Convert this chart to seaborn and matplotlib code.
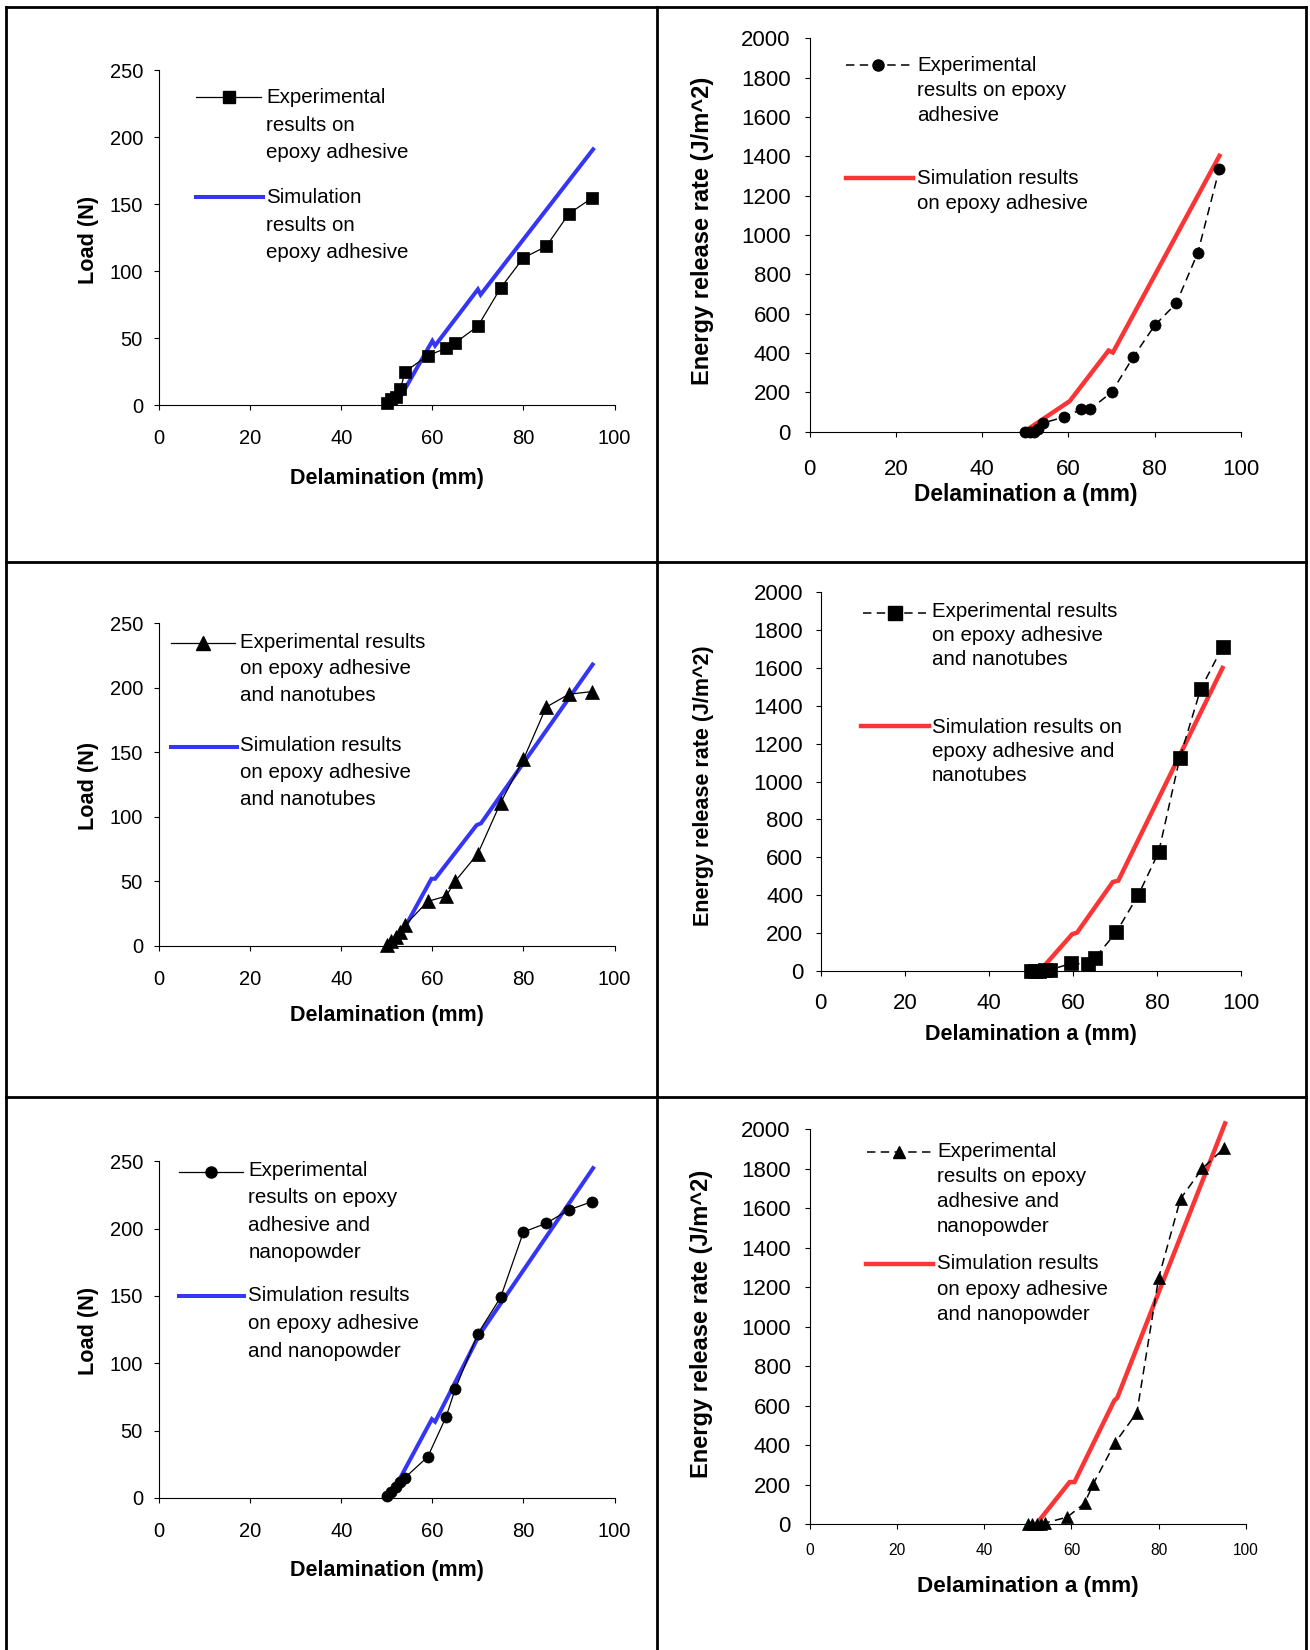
import matplotlib
matplotlib.use("Agg")
import matplotlib.pyplot as plt
from matplotlib.lines import Line2D
import seaborn as sns

plt.rcParams['font.family'] = ['Liberation Sans', 'DejaVu Sans']

W, H, DPI = 1310, 1650, 100

# ---------------- data ----------------
x_exp = [50, 51, 52, 53, 54, 59, 63, 65, 70, 75, 80, 85, 90, 95]

# Load (N) - epoxy adhesive
load_exp_epoxy = [2, 4.5, 6, 12, 25, 37, 42.5, 46.5, 59, 87.5, 110, 118.5, 143, 154.5]
load_sim_epoxy_x = [53.3, 60.0, 60.6, 70.0, 70.6, 95.3]
load_sim_epoxy_y = [8, 48, 44.5, 86.5, 82.5, 191]

# Energy release rate - epoxy adhesive
err_exp_epoxy = [0, 0, 0, 14, 43, 74, 113, 113, 200, 378, 540, 652, 910, 1337]
err_sim_epoxy_x = [51.0, 60.3, 69.3, 70.3, 95.0]
err_sim_epoxy_y = [18, 155, 412, 402, 1402]

# Load (N) - epoxy adhesive and nanotubes
load_exp_tubes = [1, 4, 7, 11, 16, 34.5, 38.5, 50, 71.5, 111, 144.5, 185, 195, 197]
load_sim_tubes_x = [54.2, 59.8, 60.6, 69.7, 70.7, 95.2]
load_sim_tubes_y = [16, 52, 52, 93.5, 95, 218]

# Energy release rate - epoxy adhesive and nanotubes
err_exp_tubes_x = [50, 51, 52, 53.3, 54.5, 59.5, 63.5, 65.3, 70.3, 75.6, 80.4, 85.4, 90.4, 95.6]
err_exp_tubes = [0, 0, 0, 3, 5, 40, 37, 70, 204, 403, 627, 1122, 1488, 1711]
err_sim_tubes_x = [52.3, 59.8, 61.0, 69.5, 70.8, 95.6]
err_sim_tubes_y = [5, 194, 203, 470, 477, 1600]

# Load (N) - epoxy adhesive and nanopowder
load_exp_powder = [1, 4, 8, 11.5, 15, 30.5, 60, 80.5, 122, 149, 197.5, 204, 214, 220]
load_sim_powder_x = [50.6, 59.9, 60.6, 70.3, 95.3]
load_sim_powder_y = [0, 58.5, 56.5, 121, 245]

# Energy release rate - epoxy adhesive and nanopowder
err_exp_powder = [0, 0, 0, 3, 6, 35, 105, 204, 412, 565, 1249, 1648, 1802, 1904]
err_sim_powder_x = [52.3, 59.6, 60.7, 69.8, 70.5, 95.2]
err_sim_powder_y = [10, 213, 213, 625, 640, 2030]

x_ticks = [0, 20, 40, 60, 80, 100]
load_ticks = [0, 50, 100, 150, 200, 250]
err_ticks = [0, 200, 400, 600, 800, 1000, 1200, 1400, 1600, 1800, 2000]

BLUE = '#3535F5'
RED = '#FA3535'

fig = plt.figure(figsize=(W / DPI, H / DPI), dpi=DPI)
fig.patch.set_facecolor('white')


def fx(x):
    return x / W


def fy(y):
    return 1 - y / H


def pt2px(p):
    return p * DPI / 72.0


# table frame
for (x0, y0, x1, y1) in [(6.3, 6.8, 1306, 6.8), (6.3, 6.8, 6.3, 1650),
                         (1306, 6.8, 1306, 1650), (656.5, 6.8, 656.5, 1650),
                         (6.3, 561.5, 1306, 561.5), (6.3, 1096.8, 1306, 1096.8)]:
    fig.add_artist(Line2D([fx(x0), fx(x1)], [fy(y0), fy(y1)], transform=fig.transFigure,
                          color='black', lw=2.0, solid_capstyle='projecting'))


def panel(box, xe, ye, xs, ys, ymax, yticks, exp_style, sim_color,
          tick_fs, xtick_fs, xpad, ypad, xlabel, xl_fs, xl_y, ylabel, yl_fs, yl_xy,
          leg):
    l, r, t, b = box
    ax = fig.add_axes([l / W, 1 - b / H, (r - l) / W, (b - t) / H])
    ax.set_facecolor('none')
    marker, msize, dashed = exp_style
    sim_lw = 3.2 if sim_color == RED else 2.9
    sns.lineplot(x=xs, y=ys, ax=ax, color=sim_color, lw=sim_lw, sort=False,
                 estimator=None, clip_on=False, solid_joinstyle='miter')
    kw = dict(color='black', lw=1.1 if dashed else 0.9, marker=marker, markersize=msize,
              markerfacecolor='black', markeredgecolor='black', markeredgewidth=0.5,
              sort=False, estimator=None, clip_on=False)
    if dashed:
        kw['linestyle'] = (0, (5.5, 3.5))
    sns.lineplot(x=xe, y=ye, ax=ax, **kw)
    ax.set_xlim(0, 100)
    ax.set_ylim(0, ymax)
    ax.set_xticks(x_ticks)
    ax.set_yticks(yticks)
    for s in ['top', 'right']:
        ax.spines[s].set_visible(False)
    for s in ['left', 'bottom']:
        ax.spines[s].set_linewidth(0.8)
        ax.spines[s].set_color('black')
    ax.tick_params(axis='x', direction='out', length=3.6, width=0.8, labelsize=xtick_fs, pad=xpad)
    ax.tick_params(axis='y', direction='out', length=3.6, width=0.8, labelsize=tick_fs, pad=ypad)
    ax.set_xlabel(xlabel, fontsize=xl_fs, fontweight='bold', va='center')
    ax.xaxis.set_label_coords(0.5, (b - xl_y) / (b - t))
    ax.set_ylabel(ylabel, fontsize=yl_fs, fontweight='bold', va='center', ha='center')
    ax.yaxis.set_label_coords((yl_xy[0] - l) / (r - l), (b - yl_xy[1]) / (b - t))

    # legend (drawn by hand to keep the Excel layout)
    (tx, exp_lines, e_c, e_step, e_h, sim_lines, s_c, s_step, s_h) = leg
    fs = 14.8
    off = 0.345 * pt2px(fs)
    ex0, ex1, ey = e_h
    fig.add_artist(Line2D([fx(ex0), fx(ex1)], [fy(ey), fy(ey)], transform=fig.transFigure,
                          color='black', lw=kw['lw'],
                          linestyle=kw.get('linestyle', '-')))
    fig.add_artist(Line2D([fx((ex0 + ex1) / 2)], [fy(ey)], transform=fig.transFigure,
                          color='black', marker=marker, markersize=msize, linestyle='none'))
    sx0, sx1, sy = s_h
    fig.add_artist(Line2D([fx(sx0), fx(sx1)], [fy(sy), fy(sy)], transform=fig.transFigure,
                          color=sim_color, lw=sim_lw))
    for i, line in enumerate(exp_lines):
        fig.text(fx(tx), fy(e_c + i * e_step + off), line, fontsize=fs, va='baseline', ha='left')
    for i, line in enumerate(sim_lines):
        fig.text(fx(tx), fy(s_c + i * s_step + off), line, fontsize=fs, va='baseline', ha='left')
    return ax


# Panel 1: load, epoxy
panel((159.1, 614.5, 70.3, 405.2), x_exp, load_exp_epoxy, load_sim_epoxy_x, load_sim_epoxy_y,
      250, load_ticks, ('s', 8.3, False), BLUE,
      14.5, 14.5, 13.5, 8, 'Delamination (mm)', 15.5, 478.5, 'Load (N)', 15.6, (88.8, 239.7),
      (266, ['Experimental', 'results on', 'epoxy adhesive'], 96.4, 27.3, (196, 261, 97),
       ['Simulation', 'results on', 'epoxy adhesive'], 196.4, 27.3, (196, 263, 197)))

# Panel 2: energy, epoxy
panel((809.6, 1241, 38.2, 431.6), x_exp, err_exp_epoxy, err_sim_epoxy_x, err_sim_epoxy_y,
      2000, err_ticks, ('o', 8, True), RED,
      16, 16, 16, 10, 'Delamination a (mm)', 16.4, 494.5, 'Energy release rate (J/m^2)', 17,
      (703, 231),
      (917, ['Experimental', 'results on epoxy', 'adhesive'], 63.5, 25, (846, 910.6, 65.3),
       ['Simulation results', 'on epoxy adhesive'], 176.7, 25.3, (846, 913, 177.8)))

# Panel 3: load, nanotubes
panel((159.1, 614.5, 623.2, 945.9), x_exp, load_exp_tubes, load_sim_tubes_x, load_sim_tubes_y,
      250, load_ticks, ('^', 10, False), BLUE,
      14.5, 14.5, 13.5, 8, 'Delamination (mm)', 15.5, 1015.8, 'Load (N)', 15.6, (88.8, 786.3),
      (240, ['Experimental results', 'on epoxy adhesive', 'and nanotubes'], 641, 26.4,
       (170.5, 234.9, 642.8),
       ['Simulation results', 'on epoxy adhesive', 'and nanotubes'], 744.4, 26.7,
       (170.5, 236.5, 746.8)))

# Panel 4: energy, nanotubes
panel((820.8, 1241, 592.2, 971), err_exp_tubes_x, err_exp_tubes, err_sim_tubes_x, err_sim_tubes_y,
      2000, err_ticks, ('s', 9.5, True), RED,
      16, 16, 12, 9, 'Delamination a (mm)', 15.5, 1034.7, 'Energy release rate (J/m^2)', 15.5,
      (703, 785.7),
      (932, ['Experimental results', 'on epoxy adhesive', 'and nanotubes'], 610, 24.2,
       (862.6, 926.5, 612.9),
       ['Simulation results on', 'epoxy adhesive and', 'nanotubes'], 725.5, 24.1,
       (861, 928.6, 726)))

# Panel 5: load, nanopowder
panel((159.1, 614.5, 1161.4, 1497.8), x_exp, load_exp_powder, load_sim_powder_x, load_sim_powder_y,
      250, load_ticks, ('o', 8, False), BLUE,
      14.5, 14.5, 14, 8, 'Delamination (mm)', 15.5, 1570.2, 'Load (N)', 15.6, (88.8, 1330.6),
      (248.3, ['Experimental', 'results on epoxy', 'adhesive and', 'nanopowder'], 1168.5, 27.6,
       (178.9, 243.3, 1171.8),
       ['Simulation results', 'on epoxy adhesive', 'and nanopowder'], 1294.2, 27.9,
       (178.9, 244, 1296.3)))

# Panel 6: energy, nanopowder
panel((809.6, 1246, 1129.3, 1524.1), x_exp, err_exp_powder, err_sim_powder_x, err_sim_powder_y,
      2000, err_ticks, ('^', 9, True), RED,
      16, 11.2, 9.7, 10, 'Delamination a (mm)', 16.2, 1586.2, 'Energy release rate (J/m^2)', 17,
      (701.8, 1324),
      (937, ['Experimental', 'results on epoxy', 'adhesive and', 'nanopowder'], 1150, 25,
       (867.2, 930.7, 1151.8),
       ['Simulation results', 'on epoxy adhesive', 'and nanopowder'], 1262, 25.5,
       (866, 932.8, 1263.9)))

fig.savefig('out.png', dpi=DPI, facecolor='white')
